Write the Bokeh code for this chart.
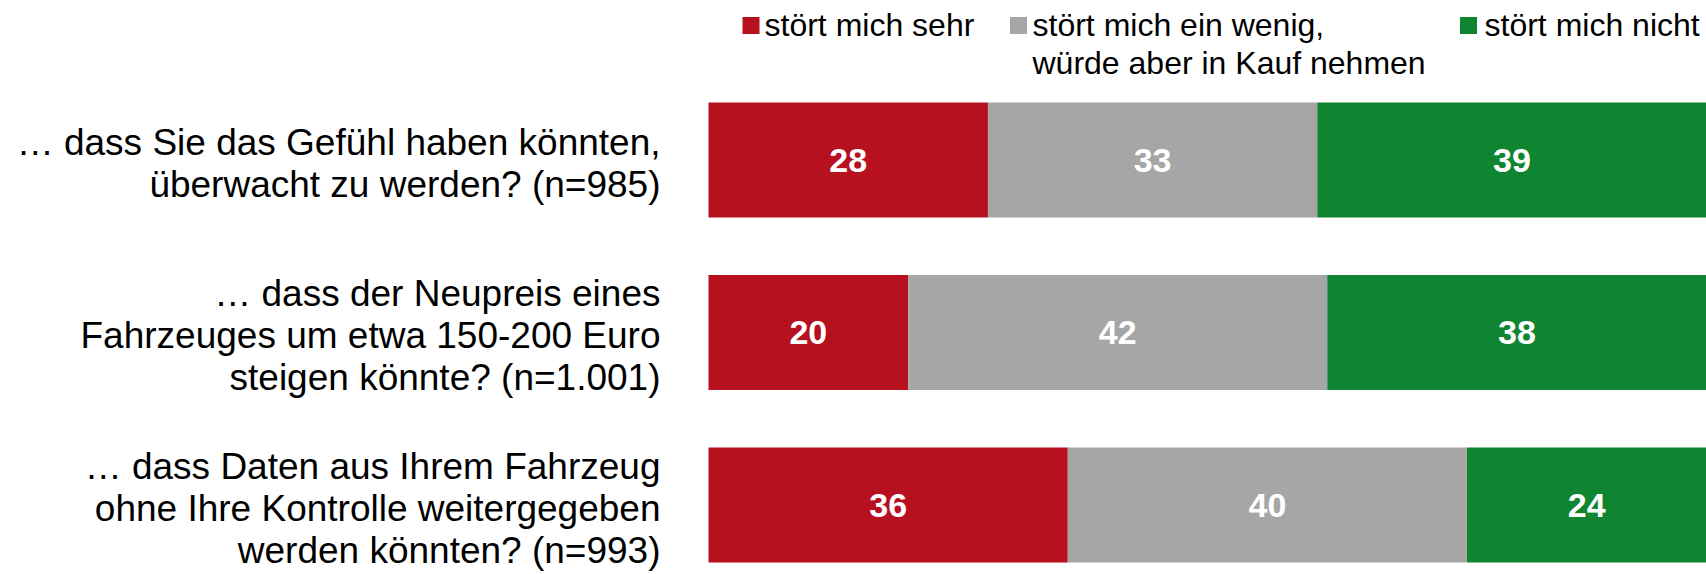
from bokeh.plotting import figure
from bokeh.models import Range1d, ColumnDataSource
from bokeh.core.properties import value
from bokeh.embed import file_html
from bokeh.resources import INLINE

# ---- data ----
categories = [
    "… dass Sie das Gefühl haben könnten,\nüberwacht zu werden? (n=985)",
    "… dass der Neupreis eines\nFahrzeuges um etwa 150-200 Euro\nsteigen könnte? (n=1.001)",
    "… dass Daten aus Ihrem Fahrzeug\nohne Ihre Kontrolle weitergegeben\nwerden könnten? (n=993)",
]
series_names = ["stört mich sehr", "stört mich ein wenig,\nwürde aber in Kauf nehmen", "stört mich nicht"]
stoert_sehr = [28, 20, 36]
stoert_wenig = [33, 42, 40]
stoert_nicht = [39, 38, 24]
colors = ["#B7101F", "#A6A6A6", "#0F8431"]

# ---- layout helpers ----
W, H = 1706, 574
BAR_LEFT_PX, BAR_RIGHT_PX = 708, 1706
px_per_x = (BAR_RIGHT_PX - BAR_LEFT_PX) / 100.0
X0 = -BAR_LEFT_PX / px_per_x
X1 = X0 + W / px_per_x
FIRST_CENTER_PX, STEP_PX = 159.5, 172.5
Y_TOP = -FIRST_CENTER_PX / STEP_PX
Y_BOT = Y_TOP + H / STEP_PX
px_per_y = STEP_PX

def px_x(page_x):
    return X0 + page_x / px_per_x

def px_y(page_y):
    return Y_TOP + page_y / px_per_y

FONT = value("Liberation Sans")

p = figure(width=W, height=H, x_range=Range1d(X0, X1), y_range=Range1d(Y_BOT, Y_TOP),
           x_axis_type=None, y_axis_type=None, toolbar_location=None,
           output_backend="svg", min_border=0, outline_line_color=None)
p.xgrid.visible = False
p.ygrid.visible = False

idx = list(range(len(categories)))
src = ColumnDataSource(dict(y=idx, sehr=stoert_sehr, wenig=stoert_wenig, nicht=stoert_nicht))
p.hbar_stack(["sehr", "wenig", "nicht"], y="y", height=115 / STEP_PX, color=colors,
             line_color=None, source=src)

# value labels
lx, ly, lt = [], [], []
for i in idx:
    left = 0
    for v in (stoert_sehr[i], stoert_wenig[i], stoert_nicht[i]):
        lx.append(left + v / 2)
        ly.append(i)
        lt.append(str(v))
        left += v
p.text(x=lx, y=ly, text=lt, text_color="white", text_font=FONT,
       text_font_style="bold", text_font_size=value("34px"),
       text_align="center", text_baseline="middle")

# category labels (right aligned, multi-line)
line_step = 42 / px_per_y
offset = 3 / px_per_y
cx, cy, ct = [], [], []
for i, cat in enumerate(categories):
    lines = cat.split("\n")
    n = len(lines)
    for k, line in enumerate(lines):
        cx.append(px_x(660))
        cy.append(i + offset + (k - (n - 1) / 2) * line_step)
        ct.append(line)
p.text(x=cx, y=cy, text=ct, text_color="#000000", text_font=FONT,
       text_font_size=value("37px"), text_align="right", text_baseline="middle")

# legend (manual)
sq_x = [750.5, 1018, 1468]
txt_x = [764, 1032, 1484]
p.rect(x=[px_x(v) for v in sq_x], y=[px_y(25)] * 3, width=17, height=17,
       width_units="screen", height_units="screen", color=colors, line_color=None)
gx, gy, gt = [], [], []
for j, name in enumerate(series_names):
    for k, line in enumerate(name.split("\n")):
        gx.append(px_x(txt_x[j]))
        gy.append(px_y(24 + 38 * k))
        gt.append(line)
p.text(x=gx, y=gy, text=gt, text_color="#000000", text_font=FONT,
       text_font_size=value("32px"), text_align="left", text_baseline="middle")

open("out.html", "w").write(file_html(p, INLINE))
